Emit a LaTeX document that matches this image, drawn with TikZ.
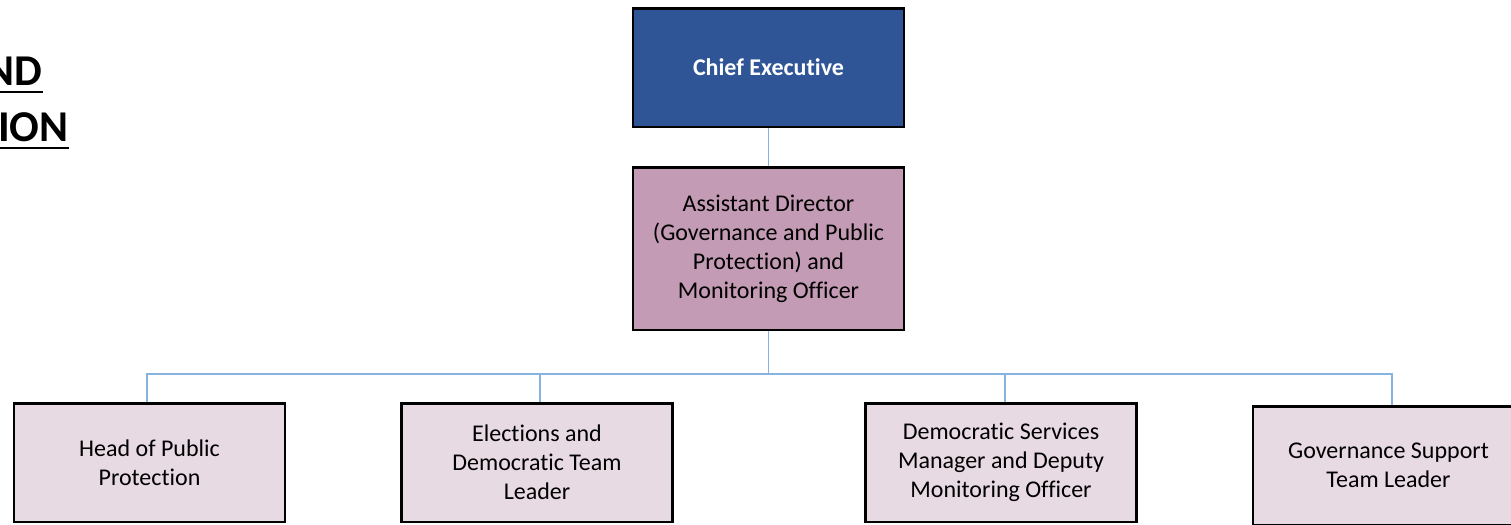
\documentclass[tikz,border=0pt]{standalone}
\usepackage{fontspec}
\setmainfont{Carlito}[Ligatures={NoCommon,NoContextual}]
\usepackage{tikz}

\definecolor{ceblue}{HTML}{2F5597}
\definecolor{admauve}{HTML}{C49BB4}
\definecolor{teampink}{HTML}{E8DAE3}
\definecolor{linkblue}{HTML}{86B3E0}

\begin{document}
\begin{tikzpicture}[x=0.5pt,y=-0.5pt,
  post/.style={draw=black,line width=1.25pt,minimum width=135.5pt,minimum height=59.25pt,
    align=center,inner sep=0pt,font=\fontsize{12}{14.5}\selectfont},
  link/.style={draw=linkblue,line width=0.9pt},
  ttl/.style={inner sep=0pt,font=\bfseries\fontsize{22}{27}\selectfont}]
\clip (0,0) rectangle (1511,525);

\node (ttlA) [ttl,anchor=base east] at (43,85) {ND};
\node (ttlB) [ttl,anchor=base east] at (69,141) {ION};
\draw[line width=1pt] ([yshift=-3.5pt]ttlA.base west)--([yshift=-3.5pt]ttlA.base east);
\draw[line width=1pt] ([yshift=-3.5pt]ttlB.base west)--([yshift=-3.5pt]ttlB.base east);

\node (ce) [post,fill=ceblue,text=white,font=\bfseries\fontsize{12}{14.5}\selectfont] at (768.5,67.5) {Chief Executive};
\node (ad) [post,fill=admauve,minimum height=81.25pt] at (768.5,248.5)
  {Assistant Director\\(Governance and Public\\Protection) and\\Monitoring Officer};

\node (hpp) [post,fill=teampink] at (149.5,462.5) {Head of Public\\Protection};
\node (edt) [post,fill=teampink] at (537,462.5) {Elections and\\Democratic Team\\Leader};
\node (dsm) [post,fill=teampink] at (1001,462.5) {Democratic Services\\Manager and Deputy\\Monitoring Officer};
\node (gst) [post,fill=teampink] at (1388.5,465.5) {Governance Support\\Team Leader};

\coordinate (bus) at (768.5,374);

\draw[link] (ce.south)--(ad.north);
\draw[link] (ad.south)--(bus);
\draw[link] (bus) -| ([xshift=-1.25pt]hpp.north);
\draw[link] (bus) -| ([xshift=1.5pt]edt.north);
\draw[link] (bus) -| ([xshift=2pt]dsm.north);
\draw[link] (bus) -| ([xshift=1.75pt]gst.north);
\end{tikzpicture}
\end{document}
